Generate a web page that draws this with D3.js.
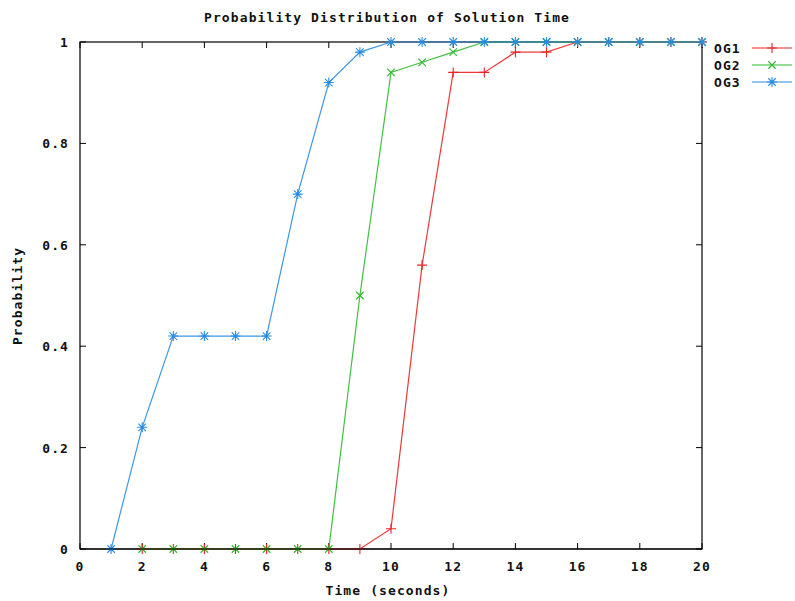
<!DOCTYPE html>
<html>
<head>
<meta charset="utf-8">
<script src="https://cdn.jsdelivr.net/npm/d3@7"></script>
<style>
  body { margin: 0; background: #fff; }
  text { font-family: "DejaVu Sans Mono", monospace; font-weight: bold; font-size: 13px; letter-spacing: 1.1px; fill: #111; }
</style>
</head>
<body>
<div id="chart"></div>
<script>
// data
var xTicks = [0, 2, 4, 6, 8, 10, 12, 14, 16, 18, 20];
var yTicks = [0, 0.2, 0.4, 0.6, 0.8, 1];
var og1X = [2, 3, 4, 5, 6, 7, 8, 9, 10, 11, 12, 13, 14, 15, 16, 17, 18, 19, 20];
var og1Y = [0, 0, 0, 0, 0, 0, 0, 0, 0.04, 0.56, 0.94, 0.94, 0.98, 0.98, 1, 1, 1, 1, 1];
var og2X = [2, 3, 4, 5, 6, 7, 8, 9, 10, 11, 12, 13, 14, 15, 16, 17, 18, 19, 20];
var og2Y = [0, 0, 0, 0, 0, 0, 0, 0.5, 0.94, 0.96, 0.98, 1, 1, 1, 1, 1, 1, 1, 1];
var og3X = [1, 2, 3, 4, 5, 6, 7, 8, 9, 10, 11, 12, 13, 14, 15, 16, 17, 18, 19, 20];
var og3Y = [0, 0.24, 0.42, 0.42, 0.42, 0.42, 0.7, 0.92, 0.98, 1, 1, 1, 1, 1, 1, 1, 1, 1, 1, 1];
var seriesNames = ["OG1", "OG2", "OG3"];
var seriesColors = ["#e82424", "#2eb82e", "#2a8be0"];

var W = 795, H = 601;
var plotL = 80, plotR = 702, plotT = 42, plotB = 549;

var svg = d3.select("#chart").append("svg")
  .attr("width", W).attr("height", H);

var x = d3.scaleLinear().domain([0, 20]).range([plotL, plotR]);
var y = d3.scaleLinear().domain([0, 1]).range([plotB, plotT]);

// ticks (inside, mirrored like gnuplot)
var tickLen = 6;
var g = svg.append("g").attr("stroke", "#000").attr("stroke-width", 1);
xTicks.forEach(function (t) {
  g.append("line").attr("x1", x(t)).attr("x2", x(t)).attr("y1", plotB).attr("y2", plotB - tickLen);
  g.append("line").attr("x1", x(t)).attr("x2", x(t)).attr("y1", plotT).attr("y2", plotT + tickLen);
});
yTicks.forEach(function (t) {
  g.append("line").attr("x1", plotL).attr("x2", plotL + tickLen).attr("y1", y(t)).attr("y2", y(t));
  g.append("line").attr("x1", plotR).attr("x2", plotR - tickLen).attr("y1", y(t)).attr("y2", y(t));
});

// tick labels
svg.selectAll(".xl").data(xTicks).enter().append("text")
  .attr("x", function (d) { return x(d); }).attr("y", 571)
  .attr("text-anchor", "middle").text(function (d) { return d; });
svg.selectAll(".yl").data(yTicks).enter().append("text")
  .attr("x", 69).attr("y", function (d) { return y(d) + 5; })
  .attr("text-anchor", "end").text(function (d) { return d; });

// titles
svg.append("text").attr("x", 387).attr("y", 22).attr("text-anchor", "middle")
  .text("Probability Distribution of Solution Time");
svg.append("text").attr("x", 388).attr("y", 595).attr("text-anchor", "middle")
  .text("Time (seconds)");
svg.append("text").attr("transform", "translate(22,296) rotate(-90)").attr("text-anchor", "middle")
  .text("Probability");

// markers: + for OG1, x for OG2, * for OG3
function marker(sel, kind, color, s) {
  var p = "";
  var d = s * 0.75;
  if (kind === 0) p = "M-" + s + ",0H" + s + "M0,-" + s + "V" + s;
  else if (kind === 1) p = "M-" + d + ",-" + d + "L" + d + "," + d + "M-" + d + "," + d + "L" + d + ",-" + d;
  else p = "M-" + s + ",0H" + s + "M0,-" + s + "V" + s +
    "M-" + d + ",-" + d + "L" + d + "," + d + "M-" + d + "," + d + "L" + d + ",-" + d;
  sel.append("path").attr("d", p).attr("stroke", color).attr("stroke-width", 1.1).attr("fill", "none");
}

var series = [[og1X, og1Y], [og2X, og2Y], [og3X, og3Y]];
var line = d3.line().x(function (d) { return x(d[0]); }).y(function (d) { return y(d[1]); });

// border first, data over it
svg.append("rect").attr("x", plotL).attr("y", plotT).attr("width", plotR - plotL).attr("height", plotB - plotT)
  .attr("fill", "none").attr("stroke", "#000").attr("stroke-width", 1.2);

series.forEach(function (s, i) {
  var pts = d3.zip(s[0], s[1]);
  svg.append("path").datum(pts).attr("d", line)
    .attr("fill", "none").attr("stroke", seriesColors[i]).attr("stroke-width", 1.2)
    .attr("stroke-opacity", 0.9);
  pts.forEach(function (p) {
    var m = svg.append("g").attr("transform", "translate(" + x(p[0]) + "," + y(p[1]) + ")");
    marker(m, i, seriesColors[i], 5);
  });
});

// zero line redrawn black as in the reference
svg.append("line").attr("x1", plotL).attr("x2", plotR).attr("y1", plotB).attr("y2", plotB)
  .attr("stroke", "#000").attr("stroke-width", 1.2);

// legend
seriesNames.forEach(function (n, i) {
  var ly = 48 + i * 17;
  svg.append("text").attr("x", 714).attr("y", ly + 5).text(n);
  svg.append("line").attr("x1", 752).attr("x2", 792).attr("y1", ly).attr("y2", ly)
    .attr("stroke", seriesColors[i]).attr("stroke-width", 1.2);
  var m = svg.append("g").attr("transform", "translate(772," + ly + ")");
  marker(m, i, seriesColors[i], 5);
});
</script>
</body>
</html>
